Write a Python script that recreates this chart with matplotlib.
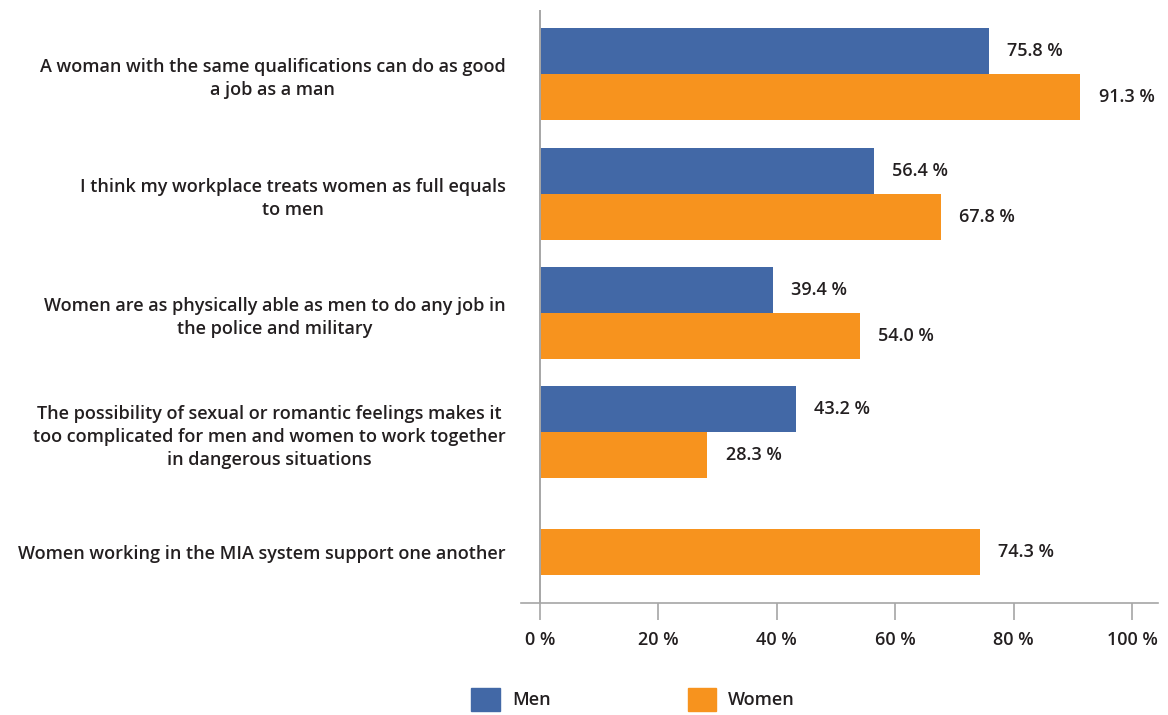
import matplotlib

matplotlib.use("agg")
import matplotlib.pyplot as plt  # noqa: E402
import numpy as np  # noqa: E402
from matplotlib.patches import Patch  # noqa: E402

plt.rcParams["font.family"] = ["Open Sans", "DejaVu Sans"]
plt.rcParams["font.weight"] = 600

statements = [
    "A woman with the same qualifications can do as good\na job as a man",
    "I think my workplace treats women as full equals\nto men",
    "Women are as physically able as men to do any job in\nthe police and military",
    "The possibility of sexual or romantic feelings makes it\n"
    "too complicated for men and women to work together\nin dangerous situations",
    "Women working in the MIA system support one another",
]
men = [75.8, 56.4, 39.4, 43.2, np.nan]
women = [91.3, 67.8, 54.0, 28.3, 74.3]
xticks = [0, 20, 40, 60, 80, 100]

BLUE = "#4268a6"
ORANGE = "#f7931e"
TEXT = "#231f20"
GREY = "#a6a6a6"
FS = 13.0

fig = plt.figure(figsize=(11.68, 7.15), dpi=100)
ax = fig.add_axes([521 / 1168, 1 - 603 / 715, 637 / 1168, 593 / 715])

y = np.arange(len(statements), dtype=float)
h = 0.385
men_arr = np.array(men)
women_arr = np.array(women)
has_men = ~np.isnan(men_arr)

# paired bars; a statement asked only of women gets a centred single bar
men_y = y - h / 2
women_y = np.where(has_men, y + h / 2, y)
ax.barh(men_y[has_men], men_arr[has_men], height=h, color=BLUE, linewidth=0)
ax.barh(women_y, women_arr, height=h, color=ORANGE, linewidth=0)

for yy, v in zip(men_y[has_men], men_arr[has_men]):
    ax.annotate(f"{v:.1f} %", xy=(v, yy), xytext=(13, 0), textcoords="offset points",
                va="center", ha="left", fontsize=FS, color=TEXT)
for yy, v in zip(women_y, women_arr):
    ax.annotate(f"{v:.1f} %", xy=(v, yy), xytext=(13, 0), textcoords="offset points",
                va="center", ha="left", fontsize=FS, color=TEXT)

ax.set_xlim(-3.2, 104.4)
ax.set_ylim(4.43, -0.54)

ax.set_yticks(y)
ax.set_yticklabels(statements, fontsize=FS, color=TEXT, multialignment="center",
                   linespacing=1.35)
ax.tick_params(axis="y", length=0, pad=11)

ax.set_xticks(xticks)
ax.set_xticklabels([f"{t} %" for t in xticks], fontsize=FS, color=TEXT)
ax.tick_params(axis="x", direction="out", length=12, width=1.2, color=GREY, pad=8)

for side in ("top", "right", "left"):
    ax.spines[side].set_visible(False)
ax.spines["bottom"].set_color(GREY)
ax.spines["bottom"].set_linewidth(1.2)
ax.axvline(0, color=GREY, lw=1.4, zorder=3)

handles = [Patch(color=BLUE, label="Men"), Patch(color=ORANGE, label="Women")]
fig.legend(handles=handles, loc="center", bbox_to_anchor=(0.542, 0.022), ncol=2,
           frameon=False, fontsize=FS, handlelength=1.6, handleheight=1.6,
           handletextpad=0.65, columnspacing=7.6, labelcolor=TEXT)

fig.savefig("out.png", dpi=100)
